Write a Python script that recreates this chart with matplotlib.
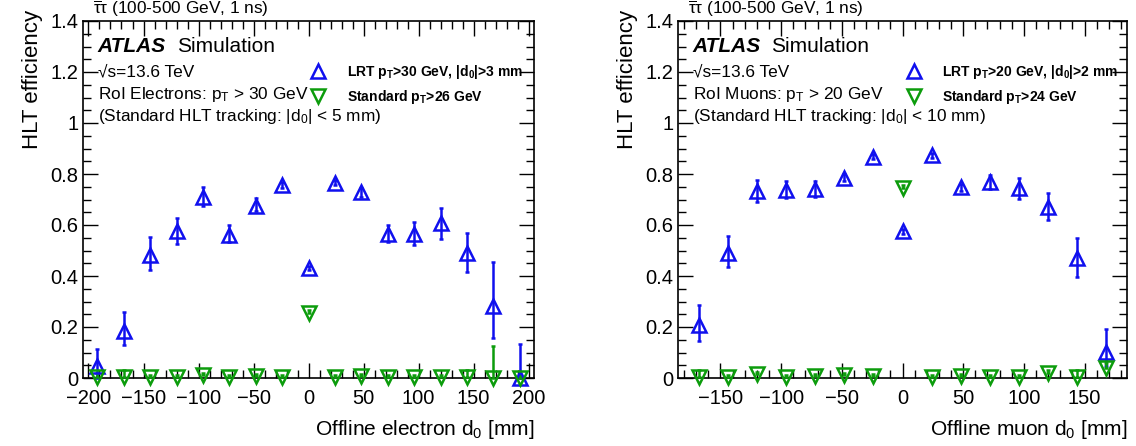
import matplotlib
matplotlib.use("Agg")
import matplotlib.pyplot as plt
from matplotlib.ticker import MultipleLocator, FuncFormatter
from matplotlib.lines import Line2D
import numpy as np

plt.rcParams['font.family'] = ['Liberation Sans', 'DejaVu Sans']
plt.rcParams['mathtext.fontset'] = 'custom'
plt.rcParams['mathtext.rm'] = 'Liberation Sans'
plt.rcParams['mathtext.it'] = 'Liberation Sans:italic'
plt.rcParams['mathtext.bf'] = 'Liberation Sans:bold'

# electrons (left panel)
ele_d0 = [-192, -168, -144, -120, -96, -72, -48, -24, 0, 24, 48, 72, 96, 120, 144, 168, 192]
ele_lrt = [0.047, 0.184, 0.483, 0.577, 0.711, 0.562, 0.676, 0.757, 0.431, 0.766, 0.728,
           0.564, 0.564, 0.607, 0.490, 0.284, 0.0]
ele_lrt_up = [0.112, 0.258, 0.552, 0.629, 0.750, 0.600, 0.705, 0.770, 0.440, 0.778, 0.745,
              0.600, 0.610, 0.666, 0.568, 0.455, 0.134]
ele_lrt_dn = [0.0, 0.128, 0.422, 0.526, 0.675, 0.532, 0.655, 0.745, 0.422, 0.755, 0.710,
              0.532, 0.520, 0.545, 0.414, 0.155, 0.0]
ele_std = [0.005, 0.005, 0.003, 0.002, 0.012, 0.003, 0.008, 0.003, 0.255, 0.004, 0.006,
           0.002, 0.002, 0.004, 0.005, 0.0, 0.0]
ele_std_up = [0.02, 0.03, 0.01, 0.01, 0.02, 0.01, 0.015, 0.01, 0.265, 0.012, 0.015,
              0.01, 0.01, 0.012, 0.03, 0.125, 0.01]

# muons (right panel)
mu_d0 = [-168, -144, -120, -96, -72, -48, -24, 0, 24, 48, 72, 96, 120, 144, 168]
mu_lrt = [0.207, 0.492, 0.733, 0.737, 0.740, 0.786, 0.868, 0.575, 0.874, 0.748, 0.767,
          0.744, 0.672, 0.470, 0.103]
mu_lrt_up = [0.285, 0.555, 0.777, 0.773, 0.773, 0.800, 0.878, 0.585, 0.884, 0.762, 0.795,
             0.785, 0.727, 0.549, 0.194]
mu_lrt_dn = [0.147, 0.434, 0.692, 0.705, 0.711, 0.772, 0.858, 0.565, 0.864, 0.734, 0.740,
             0.703, 0.618, 0.395, 0.047]
mu_std = [0.005, 0.002, 0.015, 0.004, 0.008, 0.01, 0.008, 0.745, 0.005, 0.006, 0.003,
          0.002, 0.02, 0.005, 0.04]
mu_std_up = [0.03, 0.01, 0.025, 0.012, 0.015, 0.02, 0.015, 0.755, 0.012, 0.015, 0.01,
             0.01, 0.03, 0.03, 0.06]

blue = '#1010ee'
green = '#0c9c0c'

fig = plt.figure(figsize=(11.36, 4.46), dpi=100)


def panel(rect, xlim, xd, lrt, lrt_up, lrt_dn, std, std_up,
          xlabel, lines, leg_labels, leg_x):
    ax = fig.add_axes(rect)
    lrt = np.array(lrt)
    std = np.array(std)
    ax.errorbar(xd, lrt, yerr=[lrt - np.array(lrt_dn), np.array(lrt_up) - lrt],
                fmt='^', color=blue, mfc='none', mec=blue, ms=9.5, mew=1.8,
                elinewidth=1.8, capsize=1.5, capthick=1.5, clip_on=False, zorder=3)
    ax.errorbar(xd, std, yerr=[np.zeros_like(std), np.array(std_up) - std],
                fmt='v', color=green, mfc='none', mec=green, ms=9.5, mew=1.8,
                elinewidth=1.8, capsize=1.5, capthick=1.5, clip_on=False, zorder=3)
    ax.set_xlim(-xlim, xlim)
    ax.set_ylim(0, 1.4)
    ax.xaxis.set_major_locator(MultipleLocator(50))
    ax.xaxis.set_minor_locator(MultipleLocator(10))
    ax.yaxis.set_major_locator(MultipleLocator(0.2))
    ax.yaxis.set_minor_locator(MultipleLocator(0.05))
    ax.yaxis.set_major_formatter(FuncFormatter(lambda v, p: '%g' % round(v, 2)))
    ax.tick_params(which='both', direction='in', top=True, right=True, labelsize=14.5)
    ax.tick_params(which='major', length=11, width=1)
    ax.tick_params(which='minor', length=5.5, width=1)
    ax.tick_params(axis='x', pad=8)
    for s in ax.spines.values():
        s.set_linewidth(1.2)
    ax.set_xlabel(xlabel, loc='right', fontsize=15, labelpad=7)
    ax.set_ylabel('HLT efficiency', loc='top', fontsize=16, labelpad=5)
    ax.yaxis.label.set_y(1.032)

    ax.text(0.022, 1.006, r'$\overline{\mathrm{τ}}\mathrm{τ}$ (100-500 GeV, 1 ns)',
            transform=ax.transAxes, fontsize=12.4, va='bottom', ha='left')
    ax.text(0.033, 0.928, 'ATLAS', transform=ax.transAxes, fontsize=15,
            fontweight='bold', fontstyle='italic', va='center')
    ax.text(0.208, 0.928, 'Simulation', transform=ax.transAxes, fontsize=15, va='center')
    for (ty, t) in zip([0.858, 0.795, 0.733], lines):
        ax.text(0.033, ty, t, transform=ax.transAxes, fontsize=12.4, va='center')

    handles = [Line2D([], [], ls='none', marker='^', ms=9.5, mew=1.8, mfc='none', mec=blue),
               Line2D([], [], ls='none', marker='v', ms=9.5, mew=1.8, mfc='none', mec=green)]
    ax.legend(handles, leg_labels, loc='center left', bbox_to_anchor=(leg_x, 0.822),
              frameon=False, prop={'weight': 'bold', 'size': 10}, handlelength=1,
              handletextpad=1.55, labelspacing=0.5, borderpad=0, borderaxespad=0)
    return ax


panel([83 / 1136, 68 / 446, 451 / 1136, 357 / 446], 205, ele_d0,
      ele_lrt, ele_lrt_up, ele_lrt_dn, ele_std, ele_std_up,
      r'Offline electron d$_0$ [mm]',
      [u'\u221as=13.6 TeV', r'RoI Electrons: p$_{\mathrm{T}}$ > 30 GeV',
       r'(Standard HLT tracking: |d$_0$| < 5 mm)'],
      [r'LRT p$_{\mathbf{T}}$>30 GeV, |d$_{\mathbf{0}}$|>3 mm', r'Standard p$_{\mathbf{T}}$>26 GeV'],
      0.506)

panel([678 / 1136, 68 / 446, 449 / 1136, 357 / 446], 185, mu_d0,
      mu_lrt, mu_lrt_up, mu_lrt_dn, mu_std, mu_std_up,
      r'Offline muon d$_0$ [mm]',
      [u'\u221as=13.6 TeV', r'RoI Muons: p$_{\mathrm{T}}$ > 20 GeV',
       r'(Standard HLT tracking: |d$_0$| < 10 mm)'],
      [r'LRT p$_{\mathbf{T}}$>20 GeV, |d$_{\mathbf{0}}$|>2 mm', r'Standard p$_{\mathbf{T}}$>24 GeV'],
      0.51)

fig.savefig('out.png', dpi=100)
